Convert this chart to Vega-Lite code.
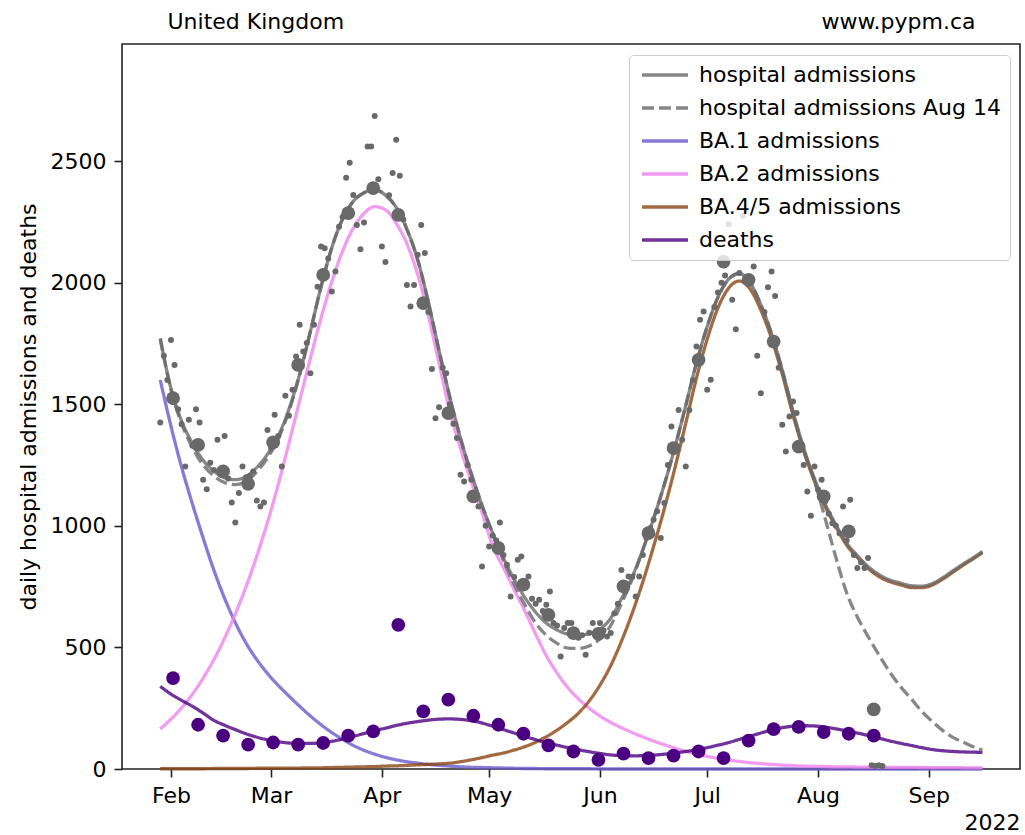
{
"$schema": "https://vega.github.io/schema/vega-lite/v6.json",
"width": 898, "height": 725,
"autosize": {"type": "none"},
"padding": {"left": 122, "top": 44, "right": 5, "bottom": 66},
"background": "white",
"config": {
  "font": "DejaVu Sans",
  "view": {"stroke": "#222", "strokeWidth": 1.6},
  "axis": {"labelFont": "DejaVu Sans", "labelFontSize": 22, "labelColor": "#000", "titleFont": "DejaVu Sans", "titleFontSize": 22, "titleFontWeight": "normal", "titleColor": "#000", "tickColor": "#222", "tickWidth": 1.6, "tickSize": 8, "labelPadding": 8, "grid": false, "domain": false},
  "axisY": {"titlePadding": 10}
},
"datasets": {
"curves": [
{"date":"2022-01-29","tot":1770,"aug":1770,"ba1":1600,"ba2":165,"ba45":1,"deaths":340},
{"date":"2022-02-01","tot":1565,"aug":1560,"ba1":1410,"ba2":205,"ba45":1,"deaths":308},
{"date":"2022-02-04","tot":1430,"aug":1420,"ba1":1240,"ba2":252,"ba45":1,"deaths":282},
{"date":"2022-02-07","tot":1340,"aug":1322,"ba1":1090,"ba2":308,"ba45":1,"deaths":258},
{"date":"2022-02-10","tot":1270,"aug":1250,"ba1":950,"ba2":374,"ba45":1,"deaths":230},
{"date":"2022-02-13","tot":1225,"aug":1205,"ba1":818,"ba2":450,"ba45":2,"deaths":200},
{"date":"2022-02-16","tot":1198,"aug":1178,"ba1":702,"ba2":538,"ba45":2,"deaths":180},
{"date":"2022-02-19","tot":1190,"aug":1170,"ba1":602,"ba2":638,"ba45":2,"deaths":162},
{"date":"2022-02-22","tot":1203,"aug":1183,"ba1":518,"ba2":750,"ba45":2,"deaths":145},
{"date":"2022-02-25","tot":1240,"aug":1222,"ba1":450,"ba2":875,"ba45":3,"deaths":131},
{"date":"2022-02-28","tot":1295,"aug":1280,"ba1":393,"ba2":1015,"ba45":3,"deaths":120},
{"date":"2022-03-03","tot":1370,"aug":1358,"ba1":344,"ba2":1170,"ba45":3,"deaths":112},
{"date":"2022-03-06","tot":1480,"aug":1472,"ba1":300,"ba2":1340,"ba45":4,"deaths":107},
{"date":"2022-03-09","tot":1625,"aug":1620,"ba1":258,"ba2":1515,"ba45":4,"deaths":105},
{"date":"2022-03-12","tot":1800,"aug":1800,"ba1":218,"ba2":1690,"ba45":5,"deaths":105},
{"date":"2022-03-15","tot":1985,"aug":1985,"ba1":182,"ba2":1855,"ba45":5,"deaths":108},
{"date":"2022-03-18","tot":2145,"aug":2145,"ba1":150,"ba2":2005,"ba45":6,"deaths":114},
{"date":"2022-03-21","tot":2262,"aug":2262,"ba1":122,"ba2":2130,"ba45":7,"deaths":123},
{"date":"2022-03-24","tot":2335,"aug":2335,"ba1":97,"ba2":2225,"ba45":8,"deaths":134},
{"date":"2022-03-27","tot":2370,"aug":2370,"ba1":77,"ba2":2285,"ba45":9,"deaths":146},
{"date":"2022-03-30","tot":2383,"aug":2383,"ba1":61,"ba2":2313,"ba45":10,"deaths":158},
{"date":"2022-04-02","tot":2360,"aug":2360,"ba1":48,"ba2":2300,"ba45":12,"deaths":168},
{"date":"2022-04-05","tot":2310,"aug":2310,"ba1":38,"ba2":2245,"ba45":13,"deaths":179},
{"date":"2022-04-08","tot":2220,"aug":2220,"ba1":30,"ba2":2160,"ba45":15,"deaths":188},
{"date":"2022-04-11","tot":2095,"aug":2095,"ba1":24,"ba2":2035,"ba45":17,"deaths":195},
{"date":"2022-04-14","tot":1920,"aug":1920,"ba1":19,"ba2":1865,"ba45":19,"deaths":201},
{"date":"2022-04-17","tot":1720,"aug":1720,"ba1":15,"ba2":1668,"ba45":21,"deaths":205},
{"date":"2022-04-20","tot":1530,"aug":1530,"ba1":12,"ba2":1472,"ba45":24,"deaths":206},
{"date":"2022-04-23","tot":1360,"aug":1360,"ba1":9,"ba2":1318,"ba45":30,"deaths":204},
{"date":"2022-04-26","tot":1215,"aug":1215,"ba1":7,"ba2":1182,"ba45":38,"deaths":199},
{"date":"2022-04-29","tot":1085,"aug":1085,"ba1":6,"ba2":1055,"ba45":47,"deaths":189},
{"date":"2022-05-02","tot":970,"aug":968,"ba1":5,"ba2":918,"ba45":57,"deaths":176},
{"date":"2022-05-05","tot":868,"aug":858,"ba1":4,"ba2":828,"ba45":66,"deaths":162},
{"date":"2022-05-08","tot":780,"aug":760,"ba1":3,"ba2":738,"ba45":78,"deaths":148},
{"date":"2022-05-11","tot":705,"aug":675,"ba1":2,"ba2":650,"ba45":92,"deaths":134},
{"date":"2022-05-14","tot":645,"aug":600,"ba1":2,"ba2":555,"ba45":110,"deaths":121},
{"date":"2022-05-17","tot":600,"aug":550,"ba1":1,"ba2":466,"ba45":133,"deaths":109},
{"date":"2022-05-20","tot":572,"aug":517,"ba1":1,"ba2":395,"ba45":160,"deaths":98},
{"date":"2022-05-23","tot":555,"aug":497,"ba1":1,"ba2":335,"ba45":192,"deaths":88},
{"date":"2022-05-26","tot":551,"aug":496,"ba1":1,"ba2":288,"ba45":230,"deaths":79},
{"date":"2022-05-29","tot":556,"aug":506,"ba1":1,"ba2":250,"ba45":280,"deaths":71},
{"date":"2022-06-01","tot":575,"aug":535,"ba1":0,"ba2":218,"ba45":345,"deaths":64},
{"date":"2022-06-04","tot":620,"aug":590,"ba1":0,"ba2":192,"ba45":425,"deaths":58},
{"date":"2022-06-07","tot":700,"aug":680,"ba1":0,"ba2":170,"ba45":525,"deaths":55},
{"date":"2022-06-10","tot":790,"aug":780,"ba1":0,"ba2":150,"ba45":640,"deaths":54},
{"date":"2022-06-13","tot":902,"aug":902,"ba1":0,"ba2":132,"ba45":770,"deaths":55},
{"date":"2022-06-16","tot":1030,"aug":1030,"ba1":0,"ba2":115,"ba45":915,"deaths":57},
{"date":"2022-06-19","tot":1170,"aug":1170,"ba1":0,"ba2":100,"ba45":1070,"deaths":61},
{"date":"2022-06-22","tot":1325,"aug":1325,"ba1":0,"ba2":86,"ba45":1240,"deaths":66},
{"date":"2022-06-25","tot":1495,"aug":1495,"ba1":0,"ba2":73,"ba45":1422,"deaths":72},
{"date":"2022-06-28","tot":1670,"aug":1670,"ba1":0,"ba2":62,"ba45":1608,"deaths":79},
{"date":"2022-07-01","tot":1820,"aug":1820,"ba1":0,"ba2":52,"ba45":1768,"deaths":88},
{"date":"2022-07-04","tot":1940,"aug":1940,"ba1":0,"ba2":44,"ba45":1896,"deaths":98},
{"date":"2022-07-07","tot":2015,"aug":2015,"ba1":0,"ba2":37,"ba45":1978,"deaths":109},
{"date":"2022-07-10","tot":2038,"aug":2038,"ba1":0,"ba2":31,"ba45":2007,"deaths":122},
{"date":"2022-07-13","tot":2000,"aug":2000,"ba1":0,"ba2":26,"ba45":1974,"deaths":135},
{"date":"2022-07-16","tot":1910,"aug":1910,"ba1":0,"ba2":22,"ba45":1888,"deaths":148},
{"date":"2022-07-19","tot":1790,"aug":1790,"ba1":0,"ba2":19,"ba45":1771,"deaths":160},
{"date":"2022-07-22","tot":1640,"aug":1640,"ba1":0,"ba2":16,"ba45":1624,"deaths":170},
{"date":"2022-07-25","tot":1470,"aug":1470,"ba1":0,"ba2":14,"ba45":1456,"deaths":176},
{"date":"2022-07-28","tot":1320,"aug":1310,"ba1":0,"ba2":12,"ba45":1308,"deaths":178},
{"date":"2022-07-31","tot":1195,"aug":1185,"ba1":0,"ba2":11,"ba45":1184,"deaths":177},
{"date":"2022-08-03","tot":1090,"aug":1030,"ba1":0,"ba2":10,"ba45":1080,"deaths":172},
{"date":"2022-08-06","tot":1005,"aug":870,"ba1":0,"ba2":9,"ba45":996,"deaths":165},
{"date":"2022-08-09","tot":930,"aug":725,"ba1":0,"ba2":9,"ba45":921,"deaths":157},
{"date":"2022-08-12","tot":878,"aug":625,"ba1":0,"ba2":8,"ba45":870,"deaths":148},
{"date":"2022-08-15","tot":833,"aug":545,"ba1":0,"ba2":8,"ba45":825,"deaths":138},
{"date":"2022-08-18","tot":800,"aug":470,"ba1":0,"ba2":8,"ba45":792,"deaths":127},
{"date":"2022-08-21","tot":778,"aug":400,"ba1":0,"ba2":7,"ba45":771,"deaths":116},
{"date":"2022-08-24","tot":765,"aug":340,"ba1":0,"ba2":7,"ba45":758,"deaths":106},
{"date":"2022-08-27","tot":754,"aug":290,"ba1":0,"ba2":7,"ba45":747,"deaths":97},
{"date":"2022-08-30","tot":752,"aug":237,"ba1":0,"ba2":6,"ba45":746,"deaths":88},
{"date":"2022-09-02","tot":763,"aug":195,"ba1":0,"ba2":6,"ba45":757,"deaths":80},
{"date":"2022-09-05","tot":788,"aug":157,"ba1":0,"ba2":6,"ba45":782,"deaths":75},
{"date":"2022-09-08","tot":818,"aug":128,"ba1":0,"ba2":6,"ba45":812,"deaths":72},
{"date":"2022-09-11","tot":847,"aug":108,"ba1":0,"ba2":5,"ba45":842,"deaths":70},
{"date":"2022-09-14","tot":875,"aug":88,"ba1":0,"ba2":5,"ba45":870,"deaths":69},
{"date":"2022-09-16","tot":895,"aug":78,"ba1":0,"ba2":5,"ba45":890,"deaths":68}
],
"daily": [
{"date":"2022-01-29","value":1425},{"date":"2022-01-30","value":1700},{"date":"2022-01-31","value":1600},
{"date":"2022-02-01","value":1765},{"date":"2022-02-02","value":1662},{"date":"2022-02-03","value":1480},{"date":"2022-02-04","value":1418},{"date":"2022-02-05","value":1244},{"date":"2022-02-06","value":1436},{"date":"2022-02-07","value":1330},{"date":"2022-02-08","value":1480},{"date":"2022-02-09","value":1425},{"date":"2022-02-10","value":1190},{"date":"2022-02-11","value":1151},{"date":"2022-02-12","value":1260},{"date":"2022-02-13","value":1230},{"date":"2022-02-14","value":1354},{"date":"2022-02-15","value":1210},{"date":"2022-02-16","value":1370},{"date":"2022-02-17","value":1195},{"date":"2022-02-18","value":1096},{"date":"2022-02-19","value":1014},{"date":"2022-02-20","value":1135},{"date":"2022-02-21","value":1244},{"date":"2022-02-22","value":1200},{"date":"2022-02-23","value":1205},{"date":"2022-02-24","value":1224},{"date":"2022-02-25","value":1104},{"date":"2022-02-26","value":1080},{"date":"2022-02-27","value":1096},{"date":"2022-02-28","value":1394},
{"date":"2022-03-01","value":1320},{"date":"2022-03-02","value":1457},{"date":"2022-03-03","value":1370},{"date":"2022-03-04","value":1244},{"date":"2022-03-05","value":1535},{"date":"2022-03-06","value":1453},{"date":"2022-03-07","value":1560},{"date":"2022-03-08","value":1697},{"date":"2022-03-09","value":1827},{"date":"2022-03-10","value":1717},{"date":"2022-03-11","value":1752},{"date":"2022-03-12","value":1628},{"date":"2022-03-13","value":1827},{"date":"2022-03-14","value":1984},{"date":"2022-03-15","value":2149},{"date":"2022-03-16","value":2142},{"date":"2022-03-17","value":2100},{"date":"2022-03-18","value":1964},{"date":"2022-03-19","value":2046},{"date":"2022-03-20","value":2230},{"date":"2022-03-21","value":2270},{"date":"2022-03-22","value":2432},{"date":"2022-03-23","value":2494},{"date":"2022-03-24","value":2361},{"date":"2022-03-25","value":2238},{"date":"2022-03-26","value":2138},{"date":"2022-03-27","value":2248},{"date":"2022-03-28","value":2560},{"date":"2022-03-29","value":2560},{"date":"2022-03-30","value":2686},{"date":"2022-03-31","value":2426},
{"date":"2022-04-01","value":2149},{"date":"2022-04-02","value":2085},{"date":"2022-04-03","value":2360},{"date":"2022-04-04","value":2451},{"date":"2022-04-05","value":2588},{"date":"2022-04-06","value":2440},{"date":"2022-04-07","value":2260},{"date":"2022-04-08","value":1991},{"date":"2022-04-09","value":1902},{"date":"2022-04-10","value":1991},{"date":"2022-04-11","value":2115},{"date":"2022-04-12","value":2238},{"date":"2022-04-13","value":2122},{"date":"2022-04-14","value":1880},{"date":"2022-04-15","value":1645},{"date":"2022-04-16","value":1443},{"date":"2022-04-17","value":1488},{"date":"2022-04-18","value":1650},{"date":"2022-04-19","value":1628},{"date":"2022-04-20","value":1500},{"date":"2022-04-21","value":1420},{"date":"2022-04-22","value":1361},{"date":"2022-04-23","value":1210},{"date":"2022-04-24","value":1183},{"date":"2022-04-25","value":1250},{"date":"2022-04-26","value":1190},{"date":"2022-04-27","value":1120},{"date":"2022-04-28","value":1080},{"date":"2022-04-29","value":833},{"date":"2022-04-30","value":1000},
{"date":"2022-05-01","value":915},{"date":"2022-05-02","value":960},{"date":"2022-05-03","value":940},{"date":"2022-05-04","value":1014},{"date":"2022-05-05","value":880},{"date":"2022-05-06","value":840},{"date":"2022-05-07","value":710},{"date":"2022-05-08","value":790},{"date":"2022-05-09","value":861},{"date":"2022-05-10","value":874},{"date":"2022-05-11","value":760},{"date":"2022-05-12","value":792},{"date":"2022-05-13","value":700},{"date":"2022-05-14","value":680},{"date":"2022-05-15","value":696},{"date":"2022-05-16","value":650},{"date":"2022-05-17","value":676},{"date":"2022-05-18","value":730},{"date":"2022-05-19","value":600},{"date":"2022-05-20","value":590},{"date":"2022-05-21","value":463},{"date":"2022-05-22","value":580},{"date":"2022-05-23","value":600},{"date":"2022-05-24","value":600},{"date":"2022-05-25","value":560},{"date":"2022-05-26","value":540},{"date":"2022-05-27","value":550},{"date":"2022-05-28","value":470},{"date":"2022-05-29","value":560},{"date":"2022-05-30","value":600},{"date":"2022-05-31","value":545},
{"date":"2022-06-01","value":600},{"date":"2022-06-02","value":570},{"date":"2022-06-03","value":545},{"date":"2022-06-04","value":559},{"date":"2022-06-05","value":640},{"date":"2022-06-06","value":680},{"date":"2022-06-07","value":819},{"date":"2022-06-08","value":730},{"date":"2022-06-09","value":792},{"date":"2022-06-10","value":790},{"date":"2022-06-11","value":710},{"date":"2022-06-12","value":792},{"date":"2022-06-13","value":880},{"date":"2022-06-14","value":950},{"date":"2022-06-15","value":990},{"date":"2022-06-16","value":1025},{"date":"2022-06-17","value":1060},{"date":"2022-06-18","value":950},{"date":"2022-06-19","value":1094},{"date":"2022-06-20","value":1250},{"date":"2022-06-21","value":1409},{"date":"2022-06-22","value":1306},{"date":"2022-06-23","value":1477},{"date":"2022-06-24","value":1354},{"date":"2022-06-25","value":1244},{"date":"2022-06-26","value":1477},{"date":"2022-06-27","value":1600},{"date":"2022-06-28","value":1738},{"date":"2022-06-29","value":1848},{"date":"2022-06-30","value":1882},
{"date":"2022-07-01","value":1560},{"date":"2022-07-02","value":1601},{"date":"2022-07-03","value":1900},{"date":"2022-07-04","value":1960},{"date":"2022-07-05","value":2000},{"date":"2022-07-06","value":2030},{"date":"2022-07-07","value":2241},{"date":"2022-07-08","value":1930},{"date":"2022-07-09","value":1809},{"date":"2022-07-10","value":2040},{"date":"2022-07-11","value":2276},{"date":"2022-07-12","value":2020},{"date":"2022-07-13","value":2000},{"date":"2022-07-14","value":2067},{"date":"2022-07-15","value":1700},{"date":"2022-07-16","value":1546},{"date":"2022-07-17","value":1880},{"date":"2022-07-18","value":1982},{"date":"2022-07-19","value":2046},{"date":"2022-07-20","value":1946},{"date":"2022-07-21","value":1650},{"date":"2022-07-22","value":1416},{"date":"2022-07-23","value":1306},{"date":"2022-07-24","value":1450},{"date":"2022-07-25","value":1512},{"date":"2022-07-26","value":1464},{"date":"2022-07-27","value":1330},{"date":"2022-07-28","value":1250},{"date":"2022-07-29","value":1141},{"date":"2022-07-30","value":1042},{"date":"2022-07-31","value":1244},
{"date":"2022-08-01","value":1150},{"date":"2022-08-02","value":1190},{"date":"2022-08-03","value":1100},{"date":"2022-08-04","value":1050},{"date":"2022-08-05","value":1011},{"date":"2022-08-06","value":1000},{"date":"2022-08-07","value":970},{"date":"2022-08-08","value":1080},{"date":"2022-08-09","value":940},{"date":"2022-08-10","value":1107},{"date":"2022-08-11","value":880},{"date":"2022-08-12","value":827},{"date":"2022-08-13","value":850},{"date":"2022-08-14","value":827},{"date":"2022-08-15","value":868},{"date":"2022-08-16","value":15},{"date":"2022-08-17","value":12},{"date":"2022-08-18","value":15},{"date":"2022-08-19","value":12}
],
"weekly": [
{"date":"2022-02-01T14:00:00Z","admissions":1525,"deaths":374},
{"date":"2022-02-08T14:00:00Z","admissions":1333,"deaths":182},
{"date":"2022-02-15T14:00:00Z","admissions":1224,"deaths":137},
{"date":"2022-02-22T14:00:00Z","admissions":1173,"deaths":100},
{"date":"2022-03-01T14:00:00Z","admissions":1343,"deaths":109},
{"date":"2022-03-08T14:00:00Z","admissions":1662,"deaths":100},
{"date":"2022-03-15T14:00:00Z","admissions":2032,"deaths":107},
{"date":"2022-03-22T14:00:00Z","admissions":2286,"deaths":137},
{"date":"2022-03-29T14:00:00Z","admissions":2389,"deaths":155},
{"date":"2022-04-05T14:00:00Z","admissions":2279,"deaths":593},
{"date":"2022-04-12T14:00:00Z","admissions":1916,"deaths":237},
{"date":"2022-04-19T14:00:00Z","admissions":1464,"deaths":285},
{"date":"2022-04-26T14:00:00Z","admissions":1121,"deaths":219},
{"date":"2022-05-03T14:00:00Z","admissions":909,"deaths":182},
{"date":"2022-05-10T14:00:00Z","admissions":758,"deaths":145},
{"date":"2022-05-17T14:00:00Z","admissions":634,"deaths":97},
{"date":"2022-05-24T14:00:00Z","admissions":559,"deaths":72},
{"date":"2022-05-31T14:00:00Z","admissions":556,"deaths":38},
{"date":"2022-06-07T14:00:00Z","admissions":751,"deaths":63},
{"date":"2022-06-14T14:00:00Z","admissions":970,"deaths":45},
{"date":"2022-06-21T14:00:00Z","admissions":1320,"deaths":55},
{"date":"2022-06-28T14:00:00Z","admissions":1683,"deaths":72},
{"date":"2022-07-05T14:00:00Z","admissions":2087,"deaths":45},
{"date":"2022-07-12T14:00:00Z","admissions":2012,"deaths":117},
{"date":"2022-07-19T14:00:00Z","admissions":1758,"deaths":164},
{"date":"2022-07-26T14:00:00Z","admissions":1326,"deaths":173},
{"date":"2022-08-02T14:00:00Z","admissions":1121,"deaths":152},
{"date":"2022-08-09T14:00:00Z","admissions":977,"deaths":145},
{"date":"2022-08-16T14:00:00Z","admissions":245,"deaths":137}
]
},
"resolve": {"axis": {"x": "independent"}},
"layer": [
{
  "data": {"name": "curves"},
  "transform": [{"fold": ["ba1", "ba2", "ba45", "deaths"], "as": ["series", "value"]}],
  "mark": {"type": "line", "strokeWidth": 3.3, "opacity": 0.8, "interpolate": "monotone"},
  "encoding": {
    "x": {"field": "date", "type": "temporal",
      "scale": {"type": "utc", "domain": [{"year": 2022, "month": 1, "date": 18, "hours": 7, "minutes": 12, "utc": true}, {"year": 2022, "month": 9, "date": 26, "hours": 12, "utc": true}]},
      "axis": {"orient": "bottom", "labelExpr": "utcFormat(datum.value, '%b')", "labelAlign": "center",
        "values": [{"year":2022,"month":2,"date":1,"utc":true},{"year":2022,"month":3,"date":1,"utc":true},{"year":2022,"month":4,"date":1,"utc":true},{"year":2022,"month":5,"date":1,"utc":true},{"year":2022,"month":6,"date":1,"utc":true},{"year":2022,"month":7,"date":1,"utc":true},{"year":2022,"month":8,"date":1,"utc":true},{"year":2022,"month":9,"date":1,"utc":true}],
        "title": "2022", "titleAnchor": "end", "titleAlign": "right", "titleX": 898, "titleY": 60, "titleBaseline": "alphabetic"}},
    "y": {"field": "value", "type": "quantitative", "scale": {"domain": [0, 2982], "nice": false}, "title": "daily hospital admissions and deaths", "axis": {"values": [0, 500, 1000, 1500, 2000, 2500], "format": "d"}},
    "color": {"field": "series", "type": "nominal",
      "scale": {"domain": ["tot", "aug", "ba1", "ba2", "ba45", "deaths"], "range": ["#696969", "#696969", "#6a5acd", "#ee82ee", "#8b4513", "#4b0082"]},
      "legend": {"orient": "none", "legendX": 507, "legendY": 11, "title": null, "padding": 9, "fillColor": "rgba(255,255,255,0.8)", "strokeColor": "#cccccc", "cornerRadius": 4, "symbolType": "M-4.6,0H4.6", "symbolSize": 100, "symbolStrokeWidth": 3.3, "symbolOpacity": 0.8, "symbolFillColor": "transparent", "symbolOffset": 16, "labelOffset": 23, "labelFontSize": 22, "labelFont": "DejaVu Sans", "labelColor": "#000", "labelLimit": 400, "rowPadding": 11,
        "labelExpr": "datum.label == 'tot' ? 'hospital admissions' : datum.label == 'aug' ? 'hospital admissions Aug 14' : datum.label == 'ba1' ? 'BA.1 admissions' : datum.label == 'ba2' ? 'BA.2 admissions' : datum.label == 'ba45' ? 'BA.4/5 admissions' : 'deaths'"}},
    "strokeDash": {"field": "series", "type": "nominal",
      "scale": {"domain": ["tot", "aug", "ba1", "ba2", "ba45", "deaths"], "range": [[1, 0], [12, 5], [1, 0], [1, 0], [1, 0], [1, 0]]},
      "legend": {"orient": "none", "legendX": 507, "legendY": 11, "title": null, "padding": 9, "fillColor": "rgba(255,255,255,0.8)", "strokeColor": "#cccccc", "cornerRadius": 4, "symbolType": "M-4.6,0H4.6", "symbolSize": 100, "symbolStrokeWidth": 3.3, "symbolOpacity": 0.8, "symbolFillColor": "transparent", "symbolOffset": 16, "labelOffset": 23, "labelFontSize": 22, "labelFont": "DejaVu Sans", "labelColor": "#000", "labelLimit": 400, "rowPadding": 11,
        "labelExpr": "datum.label == 'tot' ? 'hospital admissions' : datum.label == 'aug' ? 'hospital admissions Aug 14' : datum.label == 'ba1' ? 'BA.1 admissions' : datum.label == 'ba2' ? 'BA.2 admissions' : datum.label == 'ba45' ? 'BA.4/5 admissions' : 'deaths'"}}
  }
},
{
  "data": {"name": "curves"},
  "transform": [{"fold": ["tot", "aug"], "as": ["series", "value"]}],
  "mark": {"type": "line", "strokeWidth": 3.3, "opacity": 0.8, "interpolate": "monotone"},
  "encoding": {
    "x": {"field": "date", "type": "temporal",
      "axis": {"orient": "top", "labels": false, "ticks": false, "domain": false, "grid": false, "title": "www.pypm.ca", "titleAnchor": "end", "titleAlign": "right", "titleX": 853, "titleY": -16, "titleBaseline": "alphabetic"}},
    "y": {"field": "value", "type": "quantitative", "title": "daily hospital admissions and deaths"},
    "color": {"field": "series", "type": "nominal",
      "scale": {"domain": ["tot", "aug", "ba1", "ba2", "ba45", "deaths"], "range": ["#696969", "#696969", "#6a5acd", "#ee82ee", "#8b4513", "#4b0082"]}},
    "strokeDash": {"field": "series", "type": "nominal",
      "scale": {"domain": ["tot", "aug", "ba1", "ba2", "ba45", "deaths"], "range": [[1, 0], [12, 5], [1, 0], [1, 0], [1, 0], [1, 0]]}}
  }
},
{
  "data": {"name": "daily"},
  "mark": {"type": "circle", "size": 36, "color": "#696969", "opacity": 1},
  "encoding": {
    "x": {"field": "date", "type": "temporal",
      "axis": {"orient": "top", "labels": false, "ticks": false, "domain": false, "grid": false, "title": "United Kingdom", "titleAnchor": "start", "titleAlign": "left", "titleX": 45, "titleY": -16, "titleBaseline": "alphabetic"}},
    "y": {"field": "value", "type": "quantitative", "title": "daily hospital admissions and deaths"}
  }
},
{
  "data": {"name": "weekly"},
  "mark": {"type": "circle", "size": 190, "color": "#696969", "opacity": 1},
  "encoding": {
    "x": {"field": "date", "type": "temporal", "axis": null},
    "y": {"field": "admissions", "type": "quantitative", "title": "daily hospital admissions and deaths"}
  }
},
{
  "data": {"name": "weekly"},
  "mark": {"type": "circle", "size": 190, "color": "#4b0082", "opacity": 1},
  "encoding": {
    "x": {"field": "date", "type": "temporal", "axis": null},
    "y": {"field": "deaths", "type": "quantitative", "title": "daily hospital admissions and deaths"}
  }
}
]
}
